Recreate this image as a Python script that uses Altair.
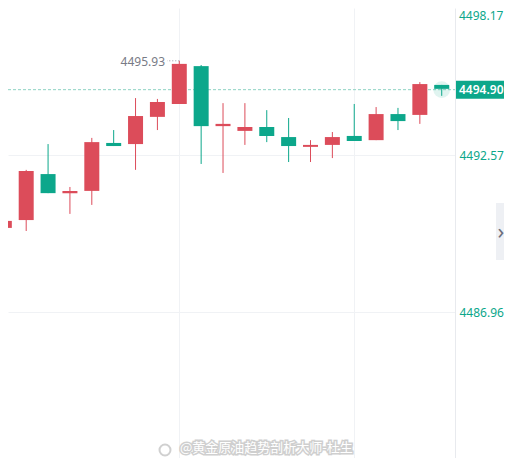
import altair as alt
import pandas as pd

# ---- data ----
idx = list(range(21))
opens = [4489.97, 4490.25, 4491.89, 4491.21, 4491.29, 4493.00, 4492.96, 4493.93, 4494.39, 4495.74,
         4493.60, 4493.43, 4493.57, 4493.21, 4492.86, 4492.93, 4493.25, 4493.10, 4494.03, 4494.00, 4495.07]
highs = [4490.22, 4492.04, 4492.96, 4491.43, 4493.18, 4493.46, 4494.60, 4494.57, 4495.93, 4495.78,
         4494.42, 4494.42, 4494.17, 4493.89, 4493.10, 4493.39, 4494.39, 4494.28, 4494.25, 4495.17, 4495.07]
lows = [4489.97, 4489.86, 4491.21, 4490.47, 4490.79, 4492.89, 4492.04, 4493.46, 4494.39, 4492.25,
        4491.93, 4492.93, 4493.03, 4492.32, 4492.32, 4492.46, 4493.07, 4493.10, 4493.46, 4493.68, 4494.68]
closes = [4490.22, 4492.00, 4491.21, 4491.29, 4493.03, 4492.89, 4493.96, 4494.46, 4495.82, 4493.60,
          4493.68, 4493.57, 4493.25, 4492.89, 4492.93, 4493.21, 4493.07, 4494.03, 4493.78, 4495.10, 4494.93]

axis_ticks = [4492.57, 4486.96]
top_label = ["4498.17"]
time_grid = [8, 16]
last_price = [4494.90]
high_mark = [4495.93]
high_idx = [8]
last_idx = [20]
watermark = ["@黄金原油趋势剖析大师-杜生"]

RED = "#DC4C5A"
GREEN = "#0CA78B"
GRID = "#F0F2F5"
FONT = "Noto Sans"
PW = 447  # plot width

df = pd.DataFrame({"i": idx, "open": opens, "high": highs, "low": lows, "close": closes})
df["dir"] = ["up" if c >= o else "down" for o, c in zip(opens, closes)]

xscale = alt.Scale(domain=[0.3965, 0.3965 + PW / 22.37], nice=False, zero=False)
yscale = alt.Scale(domain=[4481.764, 4497.813], nice=False, zero=False)
xaxis = alt.Axis(values=time_grid, grid=True, gridColor=GRID, labels=False, ticks=False,
                 domain=False, title="")
yaxis = alt.Axis(orient="right", values=axis_ticks, format=".2f", labelColor=GREEN,
                 labelFont=FONT, labelFontSize=12, labelPadding=4, ticks=False, grid=True,
                 gridColor=GRID, domainColor="#E8EAEE", title="", labelOverlap=False)
col = alt.Color("dir:N", scale=alt.Scale(domain=["up", "down"], range=[RED, GREEN]), legend=None)

base = alt.Chart(df)
wicks = base.mark_rule(strokeWidth=1, clip=True).encode(
    x=alt.X("i:Q", scale=xscale, axis=xaxis),
    y=alt.Y("low:Q", scale=yscale, axis=yaxis),
    y2="high:Q",
    color=col,
)
bodies = base.mark_bar(size=15, clip=True).encode(
    x=alt.X("i:Q", scale=xscale, axis=xaxis),
    y=alt.Y("open:Q", scale=yscale, axis=yaxis),
    y2="close:Q",
    color=col,
)

pdf = pd.DataFrame({"price": last_price, "i": last_idx})
price_line = alt.Chart(pdf).mark_rule(color="#8ED3C3", strokeDash=[3, 2], strokeWidth=1).encode(
    y=alt.Y("price:Q", scale=yscale, axis=yaxis), x=alt.value(0), x2=alt.value(PW))
glow = alt.Chart(pdf).mark_circle(color=GREEN, opacity=0.13, size=280).encode(
    x=alt.X("i:Q", scale=xscale, axis=xaxis), y=alt.Y("price:Q", scale=yscale, axis=yaxis))
tag = alt.Chart(pdf).mark_rule(color=GREEN, strokeWidth=18).encode(
    y=alt.Y("price:Q", scale=yscale, axis=yaxis), x=alt.value(PW + 1), x2=alt.value(496))
tag_text = alt.Chart(pdf).mark_text(align="left", baseline="middle", color="white", font=FONT,
                                    fontSize=12, fontWeight=600).encode(
    y=alt.Y("price:Q", scale=yscale, axis=yaxis), x=alt.value(PW + 4),
    text=alt.Text("price:Q", format=".2f"))

hdf = pd.DataFrame({"hi": high_mark, "i": high_idx})
hi_text = alt.Chart(hdf).mark_text(align="right", baseline="middle", color="#787B86", font=FONT,
                                   fontSize=12, dy=1).encode(
    y=alt.Y("hi:Q", scale=yscale, axis=yaxis), x=alt.value(157),
    text=alt.Text("hi:Q", format=".2f"))
hi_lead = alt.Chart(hdf).mark_rule(color="#9598A1", strokeDash=[1, 2], strokeWidth=1).encode(
    y=alt.Y("hi:Q", scale=yscale, axis=yaxis), x=alt.X("i:Q", scale=xscale, axis=xaxis),
    x2=alt.value(159))

top_txt = alt.Chart(pd.DataFrame({"t": top_label})).mark_text(
    align="left", baseline="top", color=GREEN, font=FONT, fontSize=12).encode(
    x=alt.value(PW + 4), y=alt.value(3), text="t:N")

btn = alt.Chart(pd.DataFrame({"a": [0]})).mark_rect(color="#EEF0F4").encode(
    x=alt.value(488), x2=alt.value(496), y=alt.value(195), y2=alt.value(252))
chev = alt.Chart(pd.DataFrame({"t": ["›"]})).mark_text(
    align="center", baseline="middle", color="#6B6E7A", font=FONT, fontSize=22).encode(
    x=alt.value(493), y=alt.value(224), text="t:N")

wdf = pd.DataFrame({"t": watermark})
wm_halo = alt.Chart(wdf).mark_text(align="left", baseline="middle", font="Noto Sans CJK SC",
                                   fontSize=13, color="#C4C4C4", stroke="#C4C4C4",
                                   strokeWidth=3, opacity=0.8).encode(
    x=alt.value(172), y=alt.value(440), text="t:N")
wm_text = alt.Chart(wdf).mark_text(align="left", baseline="middle", font="Noto Sans CJK SC",
                                   fontSize=13, color="white").encode(
    x=alt.value(172), y=alt.value(440), text="t:N")
logo = alt.Chart(pd.DataFrame({"a": [0]})).mark_point(
    shape="circle", filled=False, color="#BDBDBD", strokeWidth=2, size=120).encode(
    x=alt.value(157), y=alt.value(442))

chart = alt.layer(
    price_line, wicks, bodies, glow, hi_lead, hi_text, tag, tag_text, top_txt,
    btn, chev, logo, wm_halo, wm_text
).properties(
    width=PW, height=450,
    autosize=alt.AutoSizeParams(type="none"),
    padding={"left": 0, "top": 0, "right": 496 - PW, "bottom": 0},
).configure_view(strokeWidth=0)

chart.save("out.html", embed_options={"renderer": "svg", "actions": False})
